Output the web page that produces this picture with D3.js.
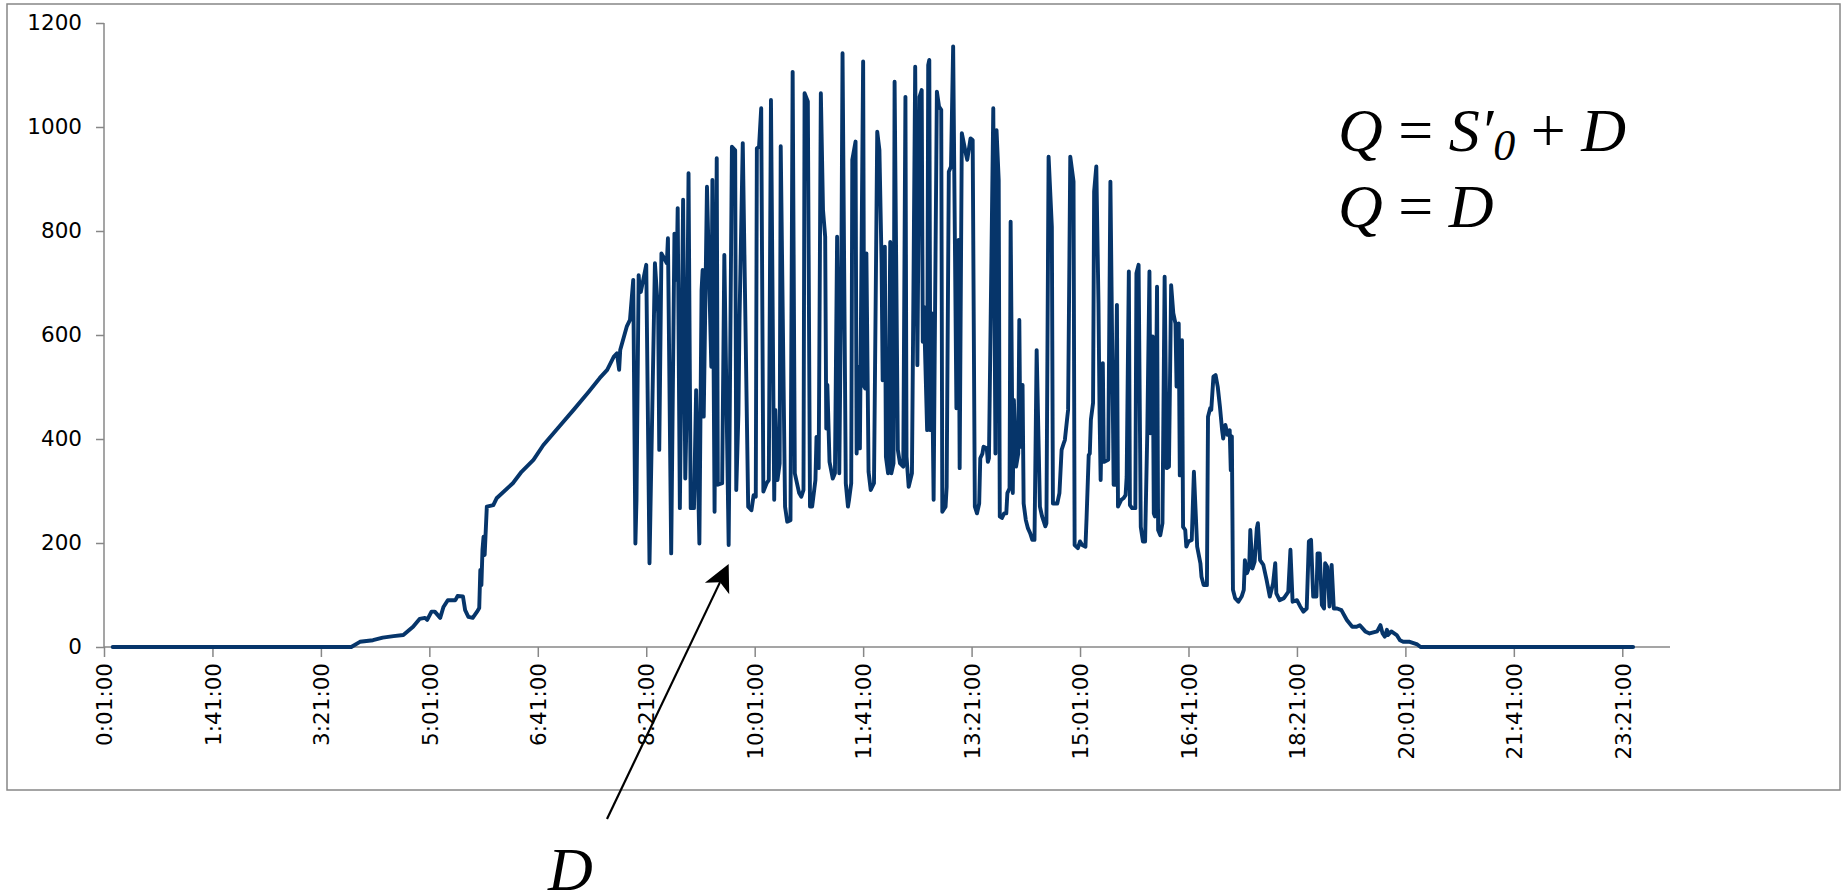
<!DOCTYPE html>
<html>
<head>
<meta charset="utf-8">
<script src="https://cdn.jsdelivr.net/npm/d3@7"></script>
<style>
  html, body { margin: 0; padding: 0; background: #ffffff; }
  svg { display: block; }
</style>
</head>
<body>
<svg id="chart" width="1843" height="896"></svg>
<script>
// Irradiance samples: [minute of day, W/m²]
const dawnSeries = [
  [9,0],[229,0],[237,10],[249,13],[258,18],[268,21],[277,23],[286,39],[292,54],[297,56],
  [299,52],[303,68],[306,68],[311,56],[314,77],[318,90],[325,90],[327,98],[332,97],[334,71],
  [337,58],[341,56],[345,68],[347,75],[348,148],[349,119],[350,187],[351,212],[352,177],[354,270],
  [360,273],[363,286],[378,315],[386,337],[397,360],[406,388],[422,427],[434,456],[448,491],[458,517],
  [465,533],[471,558],[474,565],[476,533],[477,571],[483,616],[486,629],[489,706],[491,199],[492,283],
  [494,715],[495,686],[496,683]
];

const daySeries = [
  [501,735],[504,161],[509,738],[512,642],[513,379],[515,757],[520,738],[521,786],[524,180],[527,795],
  [529,706],[530,844],[532,267],[535,860],[537,324],[538,427],[540,911],[542,267],[545,267],[547,494],
  [550,199],[552,686],[553,725],[554,443],[557,885],[561,539],[562,898],[564,260],[566,940],[567,312],
  [571,315],[573,754],[577,196],[580,962],[583,955],[584,302],[586,449],[587,629],[590,969],[595,270],
  [598,263],[600,292],[602,289],[603,959],[605,962],[607,1036],[609,299],[612,315],[614,321],[616,1052],
  [619,283],[620,456],[622,321],[624,353],[625,963],[629,270],[631,241],[634,244],[636,1106],[638,334],
  [642,296],[644,289],[646,302],[647,1065],[650,1049],[652,270],[654,270],[657,321],[658,404],[660,344],
  [662,1065],[664,840],[666,789],[667,420],[668,504],[670,356],[673,324],[675,334],[677,789],[679,334],
  [681,757],[682,1142],[685,315],[687,270],[688,283],[690,315],[691,937],[694,972],[695,372],[697,539],
  [698,382],[701,1126],[702,501],[703,497],[704,757],[706,337],[708,302],[711,315],[714,991],[716,956],
  [718,738],[719,513],[721,770],[722,366],[724,334],[726,779],[727,334],[729,353],[730,1087],[733,379],
  [735,353],[738,347],[740,1058],[741,366],[743,308],[746,334],[747,587],[749,1116],[751,542],[753,1058],
  [755,1071],[756,587],[757,654],[760,417],[761,1119],[762,1129],[763,417],[764,642],[766,283],[767,565],
  [769,1068],[771,1039],[773,1033],[774,260],[777,270],[778,308],[780,914],[782,924],[784,1155],[787,459],
  [789,783],[790,344],[792,988],[796,946],[797,937],[800,978],[802,975],[804,270],[806,257],[808,276],
  [809,363],[811,372],[812,385],[815,382],[816,356],[817,363],[821,1036],[823,372],[824,994],[826,898],
  [827,251],[829,248],[831,257],[833,257],[834,296],[836,305],[837,818],[839,296],[840,475],[842,347],
  [844,372],[845,629],[846,385],[848,504],[849,276],[851,244],[853,228],[855,219],[857,206],[859,206],
  [861,571],[864,270],[866,251],[869,232],[870,238],[872,943],[875,808],[876,276],[880,276],[882,296],
  [884,379],[886,392],[887,398],[889,437],[890,456],[892,943],[895,895],[896,196],[899,190],[901,203],
  [903,196],[906,193],[907,247],[909,369],[910,372],[911,437],[913,469],[914,876],[916,924],[918,661],
  [919,449],[920,321],[922,546],[923,356],[927,360],[929,895],[932,312],[933,312],[935,658],[936,270],
  [939,283],[941,286],[943,292],[944,327],[946,722],[947,273],[949,267],[952,267],[953,719],[955,735],
  [957,231],[959,203],[961,203],[963,411],[965,722],[966,411],[968,597],[969,257],[970,251],[972,693],
  [973,225],[975,215],[977,238],[979,712],[981,344],[983,347],[985,696],[987,642],[989,622],[990,501],
  [992,622],[993,330]
];

const duskSeries = [
  [995,590],[996,231],[998,225],[999,193],[1001,203],[1004,206],[1006,337],[1009,193],[1012,161],[1013,135],
  [1015,119],[1018,119],[1019,443],[1021,459],[1022,456],[1024,520],[1026,523],[1028,500],[1030,462],[1032,417],
  [1033,401],[1035,427],[1037,408],[1039,417],[1040,340],[1041,405],[1042,110],[1044,94],[1047,87],[1050,97],
  [1052,110],[1053,167],[1055,142],[1057,154],[1058,225],[1060,151],[1062,164],[1064,228],[1065,238],[1067,167],
  [1070,158],[1073,129],[1076,97],[1079,122],[1081,161],[1082,103],[1085,90],[1089,94],[1093,106],[1095,187],
  [1097,87],[1101,90],[1104,78],[1107,68],[1110,74],[1112,203],[1114,206],[1116,97],[1119,97],[1120,180],
  [1122,180],[1124,81],[1126,74],[1127,161],[1129,154],[1131,78],[1133,158],[1135,74],[1138,74],[1142,71],
  [1147,52],[1152,39],[1156,39],[1159,42],[1164,30],[1168,26],[1175,30],[1178,42],[1180,26],[1182,20],
  [1184,33],[1185,23],[1188,30],[1193,23],[1196,13],[1199,10],[1205,10],[1212,5],[1215,0],[1411,0]
];

const yTicks = [0, 200, 400, 600, 800, 1000, 1200];
const xTickMinutes = [1, 101, 201, 301, 401, 501, 601, 701, 801, 901, 1001, 1101, 1201, 1301, 1401];
const xTickLabels = ["0:01:00","1:41:00","3:21:00","5:01:00","6:41:00","8:21:00","10:01:00",
                     "11:41:00","13:21:00","15:01:00","16:41:00","18:21:00","20:01:00","21:41:00","23:21:00"];

const series = dawnSeries.concat(daySeries, duskSeries).map(([m, v]) => ({ m, v }));

const svg = d3.select("#chart");
const plot = { left: 104, right: 1670, top: 23, bottom: 647 };
const axisGrey = "#878787";
const lineBlue = "#06356a";

// chart frame
svg.append("rect")
  .attr("x", 7).attr("y", 4)
  .attr("width", 1833).attr("height", 786)
  .attr("fill", "none")
  .attr("stroke", axisGrey)
  .attr("stroke-width", 1.5);

const x = d3.scaleLinear().domain([1, 1445]).range([plot.left, plot.right]);
const y = d3.scaleLinear().domain([0, 1200]).range([plot.bottom, plot.top]);

// y axis
const yAxis = svg.append("g")
  .attr("transform", `translate(${plot.left},0)`)
  .call(d3.axisLeft(y).tickValues(yTicks).tickSize(8).tickPadding(14).tickFormat(d3.format("d")));
yAxis.select(".domain").attr("stroke", axisGrey).attr("stroke-width", 1.5).attr("d", `M0,${plot.top}V${plot.bottom}`);
yAxis.selectAll(".tick line").attr("stroke", axisGrey).attr("stroke-width", 1.5);
yAxis.selectAll(".tick text")
  .attr("fill", "#000")
  .style("font-family", "'DejaVu Sans', sans-serif")
  .style("font-size", "21.5px");

// x axis
const xAxis = svg.append("g")
  .attr("transform", `translate(0,${plot.bottom})`)
  .call(d3.axisBottom(x).tickValues(xTickMinutes).tickSize(10)
    .tickFormat((d, i) => xTickLabels[i]));
xAxis.select(".domain").attr("stroke", axisGrey).attr("stroke-width", 1.5).attr("d", `M${plot.left},0H${plot.right}`);
xAxis.selectAll(".tick line").attr("stroke", axisGrey).attr("stroke-width", 1.5);
xAxis.selectAll(".tick text")
  .attr("fill", "#000")
  .attr("transform", "rotate(-90)")
  .attr("x", -16)
  .attr("y", 0)
  .attr("dy", "0.36em")
  .attr("text-anchor", "end")
  .style("font-family", "'DejaVu Sans', sans-serif")
  .style("font-size", "21.5px");

// irradiance trace
const line = d3.line().x(d => x(d.m)).y(d => y(d.v));
svg.append("path")
  .datum(series)
  .attr("d", line)
  .attr("fill", "none")
  .attr("stroke", lineBlue)
  .attr("stroke-width", 3.9)
  .attr("stroke-linejoin", "round")
  .attr("stroke-linecap", "round");

// formulas
const serif = "'Liberation Serif', 'Times New Roman', serif";
const f1 = svg.append("text")
  .attr("x", 1338).attr("y", 151)
  .style("font-family", serif).style("font-size", "62px");
f1.append("tspan").attr("font-style", "italic").text("Q");
f1.append("tspan").text(" = ");
f1.append("tspan").attr("font-style", "italic").text("S′");
f1.append("tspan").attr("font-style", "italic").attr("font-size", "44px").attr("dy", 9).text("0");
f1.append("tspan").attr("dy", -9).text(" + ");
f1.append("tspan").attr("font-style", "italic").text("D");

const f2 = svg.append("text")
  .attr("x", 1338).attr("y", 227)
  .style("font-family", serif).style("font-size", "62px");
f2.append("tspan").attr("font-style", "italic").text("Q");
f2.append("tspan").text(" = ");
f2.append("tspan").attr("font-style", "italic").text("D");

// "D" annotation with arrow pointing to a trough
const tip = [x(577), y(196) + 19];
const tail = [607, 819];
const ang = Math.atan2(tip[1] - tail[1], tip[0] - tail[0]);
const ux = Math.cos(ang), uy = Math.sin(ang);
const nx = -uy, ny = ux;
const headLen = 27, headHalf = 13.5, notch = 20;
const shaftEnd = [tip[0] - ux * notch, tip[1] - uy * notch];

svg.append("line")
  .attr("x1", tail[0]).attr("y1", tail[1])
  .attr("x2", shaftEnd[0]).attr("y2", shaftEnd[1])
  .attr("stroke", "#000").attr("stroke-width", 2.2);

const headPts = [
  tip,
  [tip[0] - ux * headLen + nx * headHalf, tip[1] - uy * headLen + ny * headHalf],
  [tip[0] - ux * notch, tip[1] - uy * notch],
  [tip[0] - ux * headLen - nx * headHalf, tip[1] - uy * headLen - ny * headHalf]
];
svg.append("path")
  .attr("d", "M" + headPts.map(p => p.join(",")).join("L") + "Z")
  .attr("fill", "#000");

svg.append("text")
  .attr("x", 548).attr("y", 890)
  .attr("font-style", "italic")
  .style("font-family", serif).style("font-size", "62px")
  .text("D");
</script>
</body>
</html>
